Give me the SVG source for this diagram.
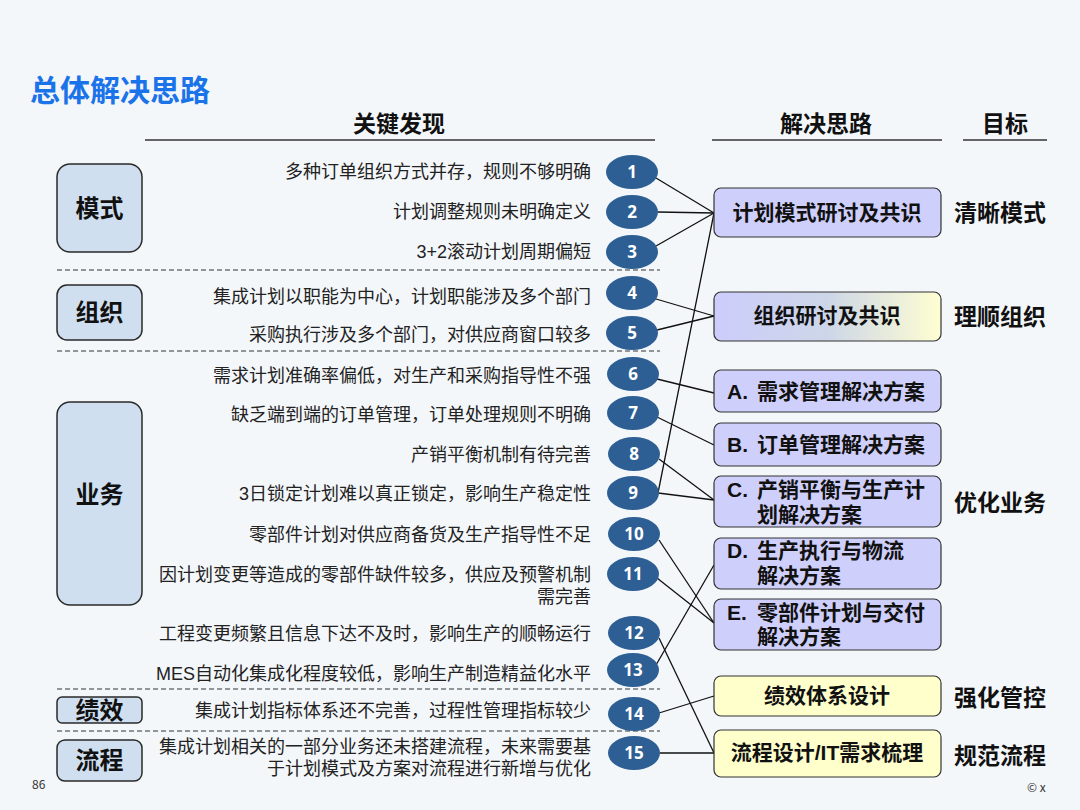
<svg xmlns="http://www.w3.org/2000/svg" width="1080" height="810" viewBox="0 0 1080 810">
<defs>
<style>
.t{font-family:"Noto Sans CJK SC","Liberation Sans",sans-serif}
.item{font-family:"Liberation Sans","Noto Sans CJK SC",sans-serif;font-size:18px;fill:#222;text-anchor:end}
.cat{fill:#cfdff0;stroke:#2a2a2a;stroke-width:1.5}
.catl{font-family:"Noto Sans CJK SC","Liberation Sans",sans-serif;font-size:24px;font-weight:bold;fill:#111;text-anchor:middle}
.num ellipse{fill:#2d5f94}
.num text{font-family:"Open Sans","Liberation Sans",sans-serif;font-size:17px;font-weight:bold;fill:#fff;text-anchor:middle}
.sol{stroke:#333;stroke-width:1.2}
.lav{fill:#cfcffb}
.yel{fill:#ffffcc}
.soll{font-family:"Liberation Sans","Noto Sans CJK SC",sans-serif;font-size:21px;font-weight:bold;fill:#111}
.goal{font-family:"Noto Sans CJK SC","Liberation Sans",sans-serif;font-size:23px;font-weight:bold;fill:#111}
.hdr{font-family:"Noto Sans CJK SC","Liberation Sans",sans-serif;font-size:23px;font-weight:bold;fill:#111;text-anchor:middle}
.dash{stroke:#333;stroke-width:1.2;stroke-dasharray:5 3}
.conn line{stroke:#111;stroke-width:1.3}
</style>
<linearGradient id="g2" x1="0" y1="0" x2="1" y2="0">
<stop offset="0" stop-color="#cccdfb"/>
<stop offset="0.5" stop-color="#cdd6e8"/>
<stop offset="1" stop-color="#fffed2"/>
</linearGradient>
</defs>
<rect width="1080" height="810" fill="#f4f7fa"/>
<text class="t" x="30" y="101" font-size="30" font-weight="bold" fill="#1a73e8">总体解决思路</text>

<g id="headers">
<text class="hdr" x="399" y="132">关键发现</text>
<line x1="145" y1="140" x2="655" y2="140" stroke="#333" stroke-width="1.5"/>
<text class="hdr" x="826" y="132">解决思路</text>
<line x1="712" y1="140" x2="942" y2="140" stroke="#333" stroke-width="1.5"/>
<text class="hdr" x="1005" y="132">目标</text>
<line x1="963" y1="140" x2="1047" y2="140" stroke="#333" stroke-width="1.5"/>
</g>

<g id="separators">
<line class="dash" x1="57" y1="270" x2="660" y2="270"/>
<line class="dash" x1="57" y1="351" x2="660" y2="351"/>
<line class="dash" x1="57" y1="689" x2="660" y2="689"/>
<line class="dash" x1="57" y1="731" x2="660" y2="731"/>
</g>

<g id="cat-moshi"><rect class="cat" x="57" y="164" width="85" height="88" rx="13"/><text class="catl" x="99.5" y="217">模式</text></g>
<g id="cat-zuzhi"><rect class="cat" x="57" y="285" width="85" height="55" rx="10"/><text class="catl" x="99.5" y="321">组织</text></g>
<g id="cat-yewu"><rect class="cat" x="57" y="402" width="85" height="203" rx="13"/><text class="catl" x="99.5" y="503">业务</text></g>
<g id="cat-jixiao"><rect class="cat" x="57" y="697" width="85" height="26" rx="5"/><text class="catl" x="99.5" y="719">绩效</text></g>
<g id="cat-liucheng"><rect class="cat" x="57" y="740" width="85" height="41" rx="8"/><text class="catl" x="99.5" y="769">流程</text></g>

<g id="findings">
<text class="item" x="591" y="178">多种订单组织方式并存，规则不够明确</text>
<text class="item" x="591" y="218">计划调整规则未明确定义</text>
<text class="item" x="591" y="258">3+2滚动计划周期偏短</text>
<text class="item" x="591" y="303">集成计划以职能为中心，计划职能涉及多个部门</text>
<text class="item" x="591" y="341">采购执行涉及多个部门，对供应商窗口较多</text>
<text class="item" x="591" y="382">需求计划准确率偏低，对生产和采购指导性不强</text>
<text class="item" x="591" y="421">缺乏端到端的订单管理，订单处理规则不明确</text>
<text class="item" x="591" y="461">产销平衡机制有待完善</text>
<text class="item" x="591" y="500">3日锁定计划难以真正锁定，影响生产稳定性</text>
<text class="item" x="591" y="541">零部件计划对供应商备货及生产指导性不足</text>
<text class="item" x="591" y="581">因计划变更等造成的零部件缺件较多，供应及预警机制<tspan x="591" y="603">需完善</tspan></text>
<text class="item" x="591" y="640">工程变更频繁且信息下达不及时，影响生产的顺畅运行</text>
<text class="item" x="591" y="680">MES自动化集成化程度较低，影响生产制造精益化水平</text>
<text class="item" x="591" y="717">集成计划指标体系还不完善，过程性管理指标较少</text>
<text class="item" x="591" y="753">集成计划相关的一部分业务还未搭建流程，未来需要基<tspan x="591" y="775">于计划模式及方案对流程进行新增与优化</tspan></text>
</g>

<g id="connectors" class="conn">
<line x1="656" y1="178" x2="714" y2="213"/>
<line x1="658" y1="212" x2="714" y2="213"/>
<line x1="656" y1="246" x2="714" y2="213"/>
<line x1="714" y1="213" x2="658" y2="493"/>
<line x1="656" y1="299" x2="714" y2="316"/>
<line x1="657" y1="330" x2="714" y2="316"/>
<line x1="657" y1="379" x2="714" y2="393"/>
<line x1="657" y1="417" x2="714" y2="445"/>
<line x1="659" y1="459" x2="714" y2="500"/>
<line x1="658" y1="493" x2="714" y2="500"/>
<line x1="659" y1="540" x2="714" y2="623"/>
<line x1="657" y1="578" x2="714" y2="623"/>
<line x1="656" y1="665" x2="714" y2="565"/>
<line x1="659" y1="638" x2="714" y2="753"/>
<line x1="659" y1="713" x2="714" y2="696"/>
<line x1="660" y1="753" x2="714" y2="753"/>
</g>

<g id="n1" class="num"><ellipse cx="632" cy="172" rx="26" ry="17"/><text x="632" y="178">1</text></g>
<g id="n2" class="num"><ellipse cx="632" cy="212" rx="26" ry="17"/><text x="632" y="218">2</text></g>
<g id="n3" class="num"><ellipse cx="632" cy="252" rx="26" ry="17"/><text x="632" y="258">3</text></g>
<g id="n4" class="num"><ellipse cx="632" cy="293" rx="26" ry="17"/><text x="632" y="299">4</text></g>
<g id="n5" class="num"><ellipse cx="632" cy="333" rx="26" ry="17"/><text x="632" y="339">5</text></g>
<g id="n6" class="num"><ellipse cx="633" cy="374" rx="26" ry="17"/><text x="633" y="380">6</text></g>
<g id="n7" class="num"><ellipse cx="633" cy="413" rx="26" ry="17"/><text x="633" y="419">7</text></g>
<g id="n8" class="num"><ellipse cx="634" cy="454" rx="26" ry="17"/><text x="634" y="460">8</text></g>
<g id="n9" class="num"><ellipse cx="633" cy="493" rx="26" ry="17"/><text x="633" y="499">9</text></g>
<g id="n10" class="num"><ellipse cx="634" cy="534" rx="26" ry="17"/><text x="634" y="540">10</text></g>
<g id="n11" class="num"><ellipse cx="633" cy="574" rx="26" ry="17"/><text x="633" y="580">11</text></g>
<g id="n12" class="num"><ellipse cx="634" cy="633" rx="26" ry="17"/><text x="634" y="639">12</text></g>
<g id="n13" class="num"><ellipse cx="633" cy="670" rx="26" ry="17"/><text x="633" y="676">13</text></g>
<g id="n14" class="num"><ellipse cx="634" cy="714" rx="26" ry="17"/><text x="634" y="720">14</text></g>
<g id="n15" class="num"><ellipse cx="634" cy="753" rx="26" ry="17"/><text x="634" y="759">15</text></g>

<g id="s-moshi"><rect class="sol lav" x="714" y="188" width="227" height="49" rx="7"/><text class="soll" x="827" y="220" text-anchor="middle">计划模式研讨及共识</text></g>
<g id="s-zuzhi"><rect class="sol" fill="url(#g2)" x="714" y="292" width="227" height="49" rx="7"/><text class="soll" x="827" y="323" text-anchor="middle">组织研讨及共识</text></g>
<g id="s-a"><rect class="sol lav" x="714" y="370" width="227" height="42" rx="7"/><text class="soll" x="727" y="399">A.<tspan x="757">需求管理解决方案</tspan></text></g>
<g id="s-b"><rect class="sol lav" x="714" y="423" width="227" height="43" rx="7"/><text class="soll" x="727" y="452">B.<tspan x="757">订单管理解决方案</tspan></text></g>
<g id="s-c"><rect class="sol lav" x="714" y="476" width="227" height="51" rx="7"/><text class="soll" x="727" y="497">C.<tspan x="757">产销平衡与生产计</tspan><tspan x="757" y="522">划解决方案</tspan></text></g>
<g id="s-d"><rect class="sol lav" x="714" y="538" width="227" height="51" rx="7"/><text class="soll" x="727" y="558">D.<tspan x="757">生产执行与物流</tspan><tspan x="757" y="583">解决方案</tspan></text></g>
<g id="s-e"><rect class="sol lav" x="714" y="599" width="227" height="51" rx="7"/><text class="soll" x="727" y="620">E.<tspan x="757">零部件计划与交付</tspan><tspan x="757" y="644">解决方案</tspan></text></g>
<g id="s-jixiao"><rect class="sol yel" x="714" y="676" width="227" height="40" rx="7"/><text class="soll" x="827" y="703" text-anchor="middle">绩效体系设计</text></g>
<g id="s-liucheng"><rect class="sol yel" x="714" y="730" width="227" height="47" rx="7"/><text class="soll" x="827" y="760" text-anchor="middle">流程设计/IT需求梳理</text></g>

<g id="goals">
<text class="goal" x="954" y="221">清晰模式</text>
<text class="goal" x="954" y="325">理顺组织</text>
<text class="goal" x="954" y="511">优化业务</text>
<text class="goal" x="954" y="706">强化管控</text>
<text class="goal" x="954" y="764">规范流程</text>
</g>

<text class="t" x="32" y="789" font-size="12" fill="#333">86</text>
<text class="t" x="1027" y="792" font-size="12" fill="#333">© x</text>
</svg>
